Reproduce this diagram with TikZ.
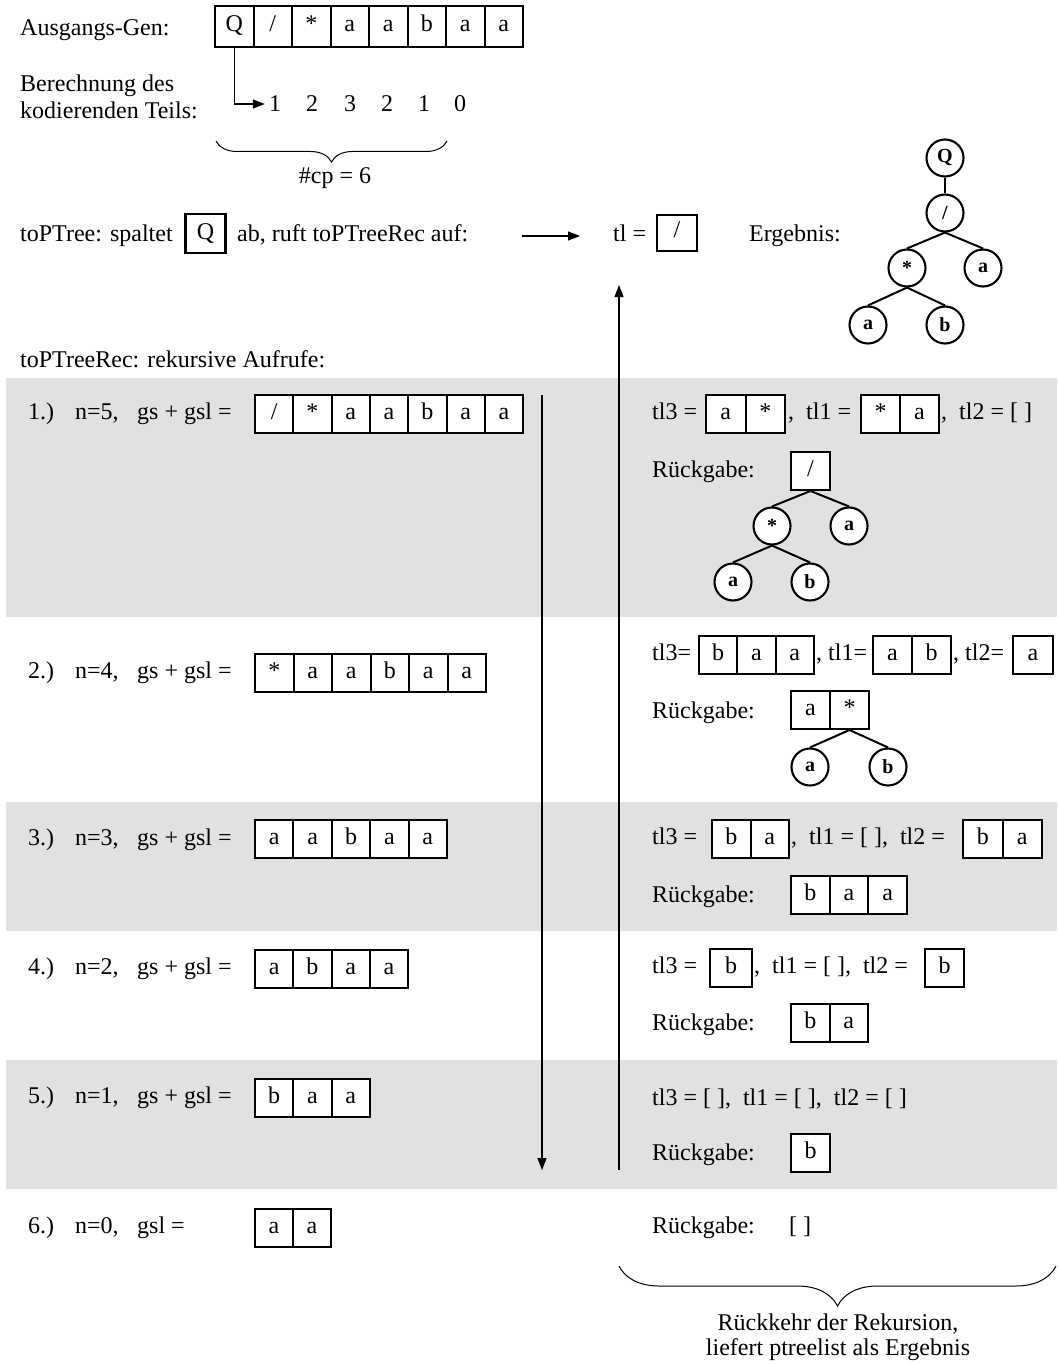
\documentclass[tikz,border=0pt]{standalone}
\usepackage{fontspec}
\setmainfont{Liberation Serif}
\usetikzlibrary{arrows.meta,decorations.pathreplacing,positioning}

\definecolor{bandgrau}{RGB}{225,225,225}

\tikzset{
  zelle/.style={draw, line width=2pt, minimum height=38pt, inner sep=0pt,
    fill=white, text height=13pt, text depth=3pt},
  knoten/.style={draw, circle, line width=2.1pt, minimum size=37pt, inner sep=0pt,
    fill=white, font=\fontsize{20}{20}\selectfont\bfseries},
  kante/.style={line width=2pt},
  pfeil/.style={line width=1.2pt, -{Triangle[length=12pt,width=9pt]}},
  txt/.style={anchor=west, inner sep=0pt, text height=16pt, text depth=5pt},
  klammer/.style={decorate, line width=1pt},
}

\newcommand{\schraeg}{/}
% Zellenreihe: [optionen]{name}{x links}{y mitte}{breite}{inhalt}
\newcommand{\zellen}[6][]{%
  \foreach \z [count=\i] in {#6}
    \node[zelle, minimum width=#5pt, #1] (#2\i) at ({#3+(\i-0.5)*#5}, #4) {\z};
}

\begin{document}
\begin{tikzpicture}[x=1pt, y=-1pt, font=\fontsize{24}{26}\selectfont]
\useasboundingbox (0,0) rectangle (1057,1364);
\fill[white] (0,0) rectangle (1057,1364);

% graue Streifen
\fill[bandgrau] (6,378) rectangle (1057,617);
\fill[bandgrau] (6,802) rectangle (1057,931);
\fill[bandgrau] (6,1060) rectangle (1057,1189);

% Ausgangs-Gen
\node[txt] (agen) at (20,30) {Ausgangs-Gen:};
\zellen[minimum height=41pt]{gen}{215}{27}{38.5}{Q,\schraeg,*,a,a,b,a,a}
\node[txt] (berA) at (20,86) {Berechnung des};
\node[txt] (berB) at (20,113) {kodierenden Teils:};
\foreach \w/\x [count=\i] in {1/275,2/312,3/350,2/387,1/424,0/460}
  \node[inner sep=0pt] (cp\i) at (\x,104) {\w};
\draw[pfeil] (gen1.south) |- ([xshift=-4pt]cp1.west);
\draw[klammer, decoration={brace, amplitude=21pt}] (447,141) -- (216,141);
\node (cpanz) at (335,178) {\#cp = 6};

% toPTree
\node[txt] (spalt) at (20,236) {toPTree: spaltet};
\node[zelle, line width=2.6pt, minimum width=40pt, minimum height=39pt, text height=16pt, text depth=4pt] (qbox) at (205.5,233.5) {Q};
\node[txt] (ruft) at (237,236) {ab, ruft toPTreeRec auf:};
\coordinate (aufA) at (522,236);
\coordinate (aufB) at (580,236);
\draw[pfeil] (aufA) -- (aufB);
\node[txt] (tl) at (613,236) {tl =};
\node[zelle, minimum width=40pt, minimum height=36pt] (tlbox) at (677,233) {\schraeg};
\node[txt] (erg) at (749,236) {Ergebnis:};

% Ergebnisbaum
\node[knoten] (eQ) at (945,158) {Q};
\node[knoten] (eS) at (945,213) {/};
\node[knoten] (eM) at (907,268) {*};
\node[knoten] (eA) at (983,268) {a};
\node[knoten] (eAA) at (868,325) {a};
\node[knoten] (eB) at (945,325) {b};
\draw[kante] (eQ) -- (eS);
\draw[kante] (eS.south) -- (eM.north);
\draw[kante] (eS.south) -- (eA.north);
\draw[kante] (eM.south) -- (eAA.north);
\draw[kante] (eM.south) -- (eB.north);

\node[txt] (rek) at (20,362) {toPTreeRec: rekursive Aufrufe:};

% linke Spalte: Aufrufe
\foreach \nr/\n/\y in {1/5/414, 2/4/673, 3/3/840, 4/2/969, 5/1/1098}{
  \node[txt] (nr\nr) at (28,\y) {\nr.)};
  \node[txt] (n\nr) at (75,\y) {n=\n,};
  \node[txt] (gs\nr) at (137,\y) {gs + gsl =};
}
\node[txt] (nr6) at (28,1228) {6.)};
\node[txt] (n6) at (75,1228) {n=0,};
\node[txt] (gs6) at (137,1228) {gsl =};
\zellen{ga}{255}{414}{38.3}{\schraeg,*,a,a,b,a,a}
\zellen{gb}{255}{673}{38.5}{*,a,a,b,a,a}
\zellen{gc}{255}{839}{38.4}{a,a,b,a,a}
\zellen{gd}{255}{969}{38.3}{a,b,a,a}
\zellen{ge}{255}{1098}{38.3}{b,a,a}
\zellen{gf}{255}{1228}{38}{a,a}

% Pfeile Rekursion
\coordinate (abA) at (542,395);
\coordinate (abB) at (542,1170);
\draw[pfeil] (abA) -- (abB);
\coordinate (aufC) at (619,1170);
\coordinate (aufD) at (619,285);
\draw[pfeil] (aufC) -- (aufD);

% rechte Spalte: Rueckgaben
\node[txt] (ra1) at (652,414) {tl3 =};
\zellen{ra}{706}{414}{39.5}{a,*}
\node[txt] (rb1) at (788,414) {,\ \ tl1 =};
\zellen{rb}{861}{414}{39}{*,a}
\node[txt] (rc1) at (941,414) {,\ \ tl2 = [ ]};
\node[txt] (rg1) at (652,472) {Rückgabe:};
\node[zelle, minimum width=39pt] (rs) at (810.5,471) {\schraeg};
\node[knoten] (rM) at (772,526) {*};
\node[knoten] (rA) at (849,526) {a};
\node[knoten] (rAA) at (733,582) {a};
\node[knoten] (rB) at (810,582) {b};
\draw[kante] (rs.south) -- (rM.north);
\draw[kante] (rs.south) -- (rA.north);
\draw[kante] (rM.south) -- (rAA.north);
\draw[kante] (rM.south) -- (rB.north);

\node[txt] (ra2) at (652,655) {tl3=};
\zellen{rc}{699}{655}{38.3}{b,a,a}
\node[txt] (rb2) at (816,655) {, tl1=};
\zellen{rd}{873}{655}{39}{a,b}
\node[txt] (rc2) at (953,655) {, tl2=};
\zellen{re}{1013}{655}{40}{a}
\node[txt] (rg2) at (652,713) {Rückgabe:};
\zellen{rf}{791}{710}{39}{a,*}
\node[knoten] (sA) at (810,767) {a};
\node[knoten] (sB) at (888,767) {b};
\draw[kante] (rf2.south) -- (sA.north);
\draw[kante] (rf2.south) -- (sB.north);

\node[txt] (ra3) at (652,839) {tl3 =};
\zellen{rg}{712}{839}{38.5}{b,a}
\node[txt] (rb3) at (791,839) {,\ \ tl1 = [ ],\ \ tl2 =};
\zellen{rh}{963}{839}{39.5}{b,a}
\node[txt] (rg3) at (652,897) {Rückgabe:};
\zellen{ri}{791}{895}{38.7}{b,a,a}

\node[txt] (ra4) at (652,968) {tl3 =};
\zellen{rj}{710}{968}{42}{b}
\node[txt] (rb4) at (754,968) {,\ \ tl1 = [ ],\ \ tl2 =};
\zellen{rk}{925}{968}{39}{b}
\node[txt] (rg4) at (652,1025) {Rückgabe:};
\zellen{rl}{791}{1023}{38.5}{b,a}

\node[txt] (ra5) at (652,1100) {tl3 = [ ],\ \ tl1 = [ ],\ \ tl2 = [ ]};
\node[txt] (rg5) at (652,1155) {Rückgabe:};
\zellen{rm}{791}{1153}{39}{b}

\node[txt] (rg6) at (652,1228) {Rückgabe:};
\node[txt] (leer) at (789,1228) {[ ]};

% Rueckkehr
\draw[klammer, decoration={brace, amplitude=40pt}] (1056,1266) -- (619,1266);
\node[align=center, font=\fontsize{24}{25}\selectfont] (rueck) at (838,1337) {Rückkehr der Rekursion,\\liefert ptreelist als Ergebnis};

\end{tikzpicture}
\end{document}
